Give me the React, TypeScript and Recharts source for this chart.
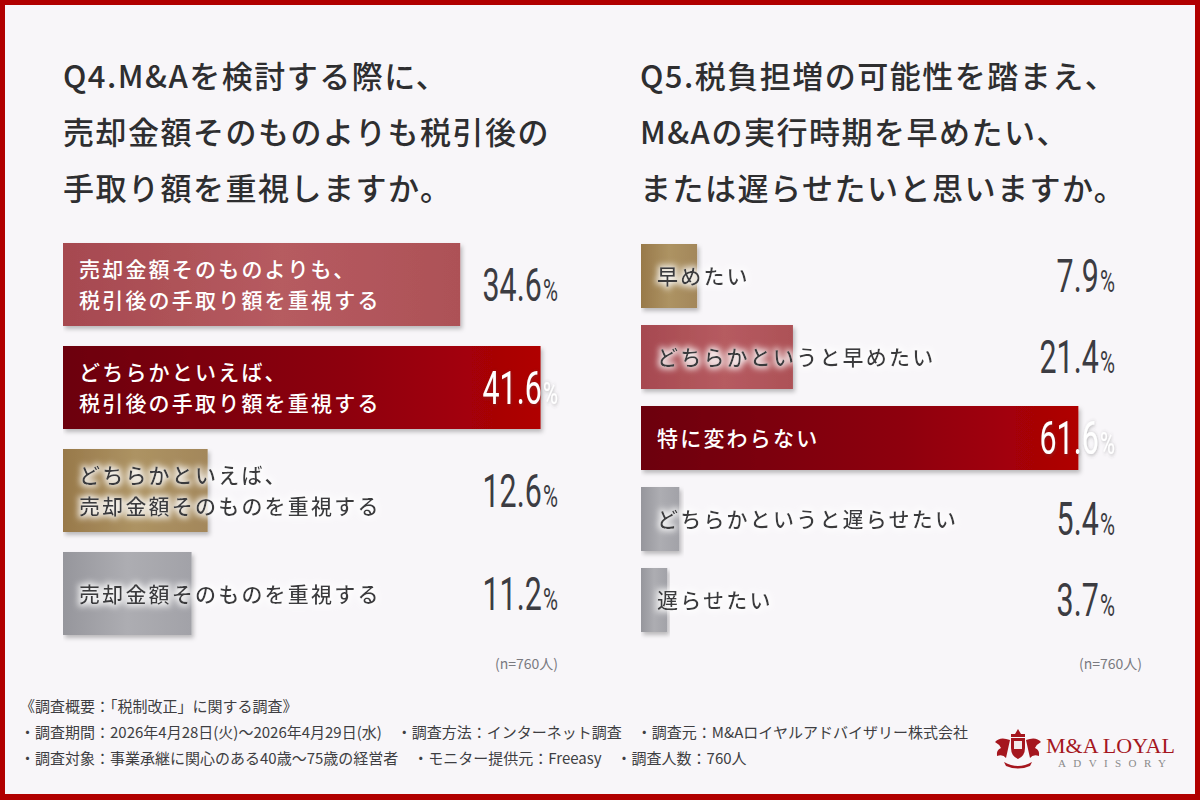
import { BarChart, Bar, XAxis, YAxis, Cell, LabelList } from "recharts";

// Q4 survey answers
const q4Categories = [
  "売却金額そのものよりも、\n税引後の手取り額を重視する",
  "どちらかといえば、\n税引後の手取り額を重視する",
  "どちらかといえば、\n売却金額そのものを重視する",
  "売却金額そのものを重視する",
];
const q4Values = [34.6, 41.6, 12.6, 11.2];

// Q5 survey answers
const q5Categories = [
  "早めたい",
  "どちらかというと早めたい",
  "特に変わらない",
  "どちらかというと遅らせたい",
  "遅らせたい",
];
const q5Values = [7.9, 21.4, 61.6, 5.4, 3.7];

const q4Title = ["Q4.M&Aを検討する際に、", "売却金額そのものよりも税引後の", "手取り額を重視しますか。"];
const q5Title = ["Q5.税負担増の可能性を踏まえ、", "M&Aの実行時期を早めたい、", "または遅らせたいと思いますか。"];
const sampleNote = "(n=760人)";

const footerLines = [
  "《調査概要：「税制改正」に関する調査》",
  "・調査期間：2026年4月28日(火)～2026年4月29日(水)　・調査方法：インターネット調査　・調査元：M&Aロイヤルアドバイザリー株式会社",
  "・調査対象：事業承継に関心のある40歳～75歳の経営者　・モニター提供元：Freeasy　・調査人数：760人",
];

// styling per bar
const q4Fills = ["url(#rose)", "url(#crimson)", "url(#gold)", "url(#gray)"];
const q4LightText = [true, true, false, false];
const q5Fills = ["url(#gold)", "url(#rose)", "url(#crimson)", "url(#gray)", "url(#gray)"];
const q5LightText = [false, false, true, false, false];

const JP = '"Noto Sans CJK JP", "Noto Sans", sans-serif';
const NUM = 'Roboto, "Liberation Sans", sans-serif';

type Row = { name: string; value: number };

const toRows = (names: string[], values: number[]): Row[] =>
  names.map((name, i) => ({ name, value: values[i] }));

function BarShape(props: any) {
  const { x, y, width, height, fill } = props;
  if (!width || width <= 0) return null;
  return <rect x={x} y={y} width={width} height={height} fill={fill} filter="url(#barShadow)" />;
}

function SurveyBars({
  data,
  width,
  height,
  domainMax,
  barSize,
  labelRight,
  fills,
  lightText,
  highlight,
}: {
  data: Row[];
  width: number;
  height: number;
  domainMax: number;
  barSize: number;
  labelRight: number;
  fills: string[];
  lightText: boolean[];
  highlight: number;
}) {
  const renderName = (p: any) => {
    const { x, y, height: h, value, index } = p;
    const lines = String(value).split("\n");
    const gap = 31;
    const cy = y + h / 2 - 1;
    const start = cy - ((lines.length - 1) * gap) / 2;
    const light = lightText[index];
    return (
      <text
        fontFamily={JP}
        fontSize={21}
        fontWeight={500}
        letterSpacing={2.2}
        fill={light ? "#ffffff" : "#3a3a3e"}
        filter={light ? undefined : "url(#textGlow)"}
      >
        {lines.map((ln, i) => (
          <tspan key={i} x={x + 16} y={start + i * gap} dominantBaseline="central">
            {ln}
          </tspan>
        ))}
      </text>
    );
  };

  const renderValue = (p: any) => {
    const { y, height: h, value, index } = p;
    const hi = index === highlight;
    const base = y + h / 2 + 16;
    return (
      <text
        transform={`translate(${labelRight},${base}) scale(0.66,1)`}
        textAnchor="end"
        fontFamily={NUM}
        fontWeight={400}
        fill={hi ? "#ffffff" : "#3c3c42"}
        filter={hi ? "url(#pctShadow)" : undefined}
      >
        <tspan fontSize={46}>{Number(value).toFixed(1)}</tspan>
        <tspan fontSize={31} dx={2}>%</tspan>
      </text>
    );
  };

  return (
    <BarChart
      width={width}
      height={height}
      data={data}
      layout="vertical"
      margin={{ top: 0, right: 0, bottom: 0, left: 0 }}
      style={{ overflow: "visible" }}
    >
      <XAxis type="number" domain={[0, domainMax]} hide />
      <YAxis type="category" dataKey="name" hide />
      <Bar dataKey="value" barSize={barSize} shape={BarShape} isAnimationActive={false}>
        {data.map((_, i) => (
          <Cell key={i} fill={fills[i]} />
        ))}
        <LabelList dataKey="name" content={renderName} />
        <LabelList dataKey="value" content={renderValue} />
      </Bar>
    </BarChart>
  );
}

function Defs() {
  return (
    <svg width={0} height={0} style={{ position: "absolute" }}>
      <defs>
        <linearGradient id="rose" x1="0" y1="0" x2="1" y2="0">
          <stop offset="0" stopColor="#a64950" />
          <stop offset="0.55" stopColor="#b65b60" />
          <stop offset="1" stopColor="#ad5157" />
        </linearGradient>
        <linearGradient id="crimson" x1="0" y1="0" x2="1" y2="0">
          <stop offset="0" stopColor="#6c0009" />
          <stop offset="0.6" stopColor="#8e000c" />
          <stop offset="1" stopColor="#b00404" />
        </linearGradient>
        <linearGradient id="gold" x1="0" y1="0" x2="1" y2="0">
          <stop offset="0" stopColor="#98794a" />
          <stop offset="0.5" stopColor="#ad9363" />
          <stop offset="1" stopColor="#a3875a" />
        </linearGradient>
        <linearGradient id="gray" x1="0" y1="0" x2="1" y2="0">
          <stop offset="0" stopColor="#96969c" />
          <stop offset="0.5" stopColor="#adadb2" />
          <stop offset="1" stopColor="#a2a2a8" />
        </linearGradient>
        <filter id="barShadow" x="-5%" y="-10%" width="115%" height="130%">
          <feDropShadow dx={2} dy={3} stdDeviation={2} floodColor="#000" floodOpacity={0.25} />
        </filter>
        <filter id="textGlow" x="-10%" y="-60%" width="120%" height="220%">
          <feMorphology operator="dilate" radius={2} in="SourceAlpha" result="d" />
          <feGaussianBlur in="d" stdDeviation={3} result="b" />
          <feFlood floodColor="#ffffff" floodOpacity={0.85} />
          <feComposite in2="b" operator="in" result="g" />
          <feMerge>
            <feMergeNode in="g" />
            <feMergeNode in="SourceGraphic" />
          </feMerge>
        </filter>
        <filter id="pctShadow" x="-30%" y="-50%" width="160%" height="200%">
          <feDropShadow dx={1} dy={1} stdDeviation={2} floodColor="#555" floodOpacity={0.4} />
        </filter>
      </defs>
    </svg>
  );
}

function Logo() {
  return (
    <svg width={200} height={56} style={{ position: "absolute", left: 992, top: 722 }}>
      <g fill="#a5161e">
        {/* crest */}
        <path d="M23 12 l3 -5 l3 5 z" />
        <rect x={19} y={12} width={14} height={3} />
        <path d="M19 16 h14 v10 q0 8 -7 11 q-7 -3 -7 -11 z" />
        <path d="M18 18 q-10 -4 -15 2 q4 2 6 6 q-5 2 -4 8 q6 -2 9 2 z" />
        <path d="M34 18 q10 -4 15 2 q-4 2 -6 6 q5 2 4 8 q-6 -2 -9 2 z" />
        <path d="M12 40 q14 8 28 0 l-2 4 q-12 5 -24 0 z" />
      </g>
      <rect x={22} y={19} width={8} height={8} fill="#f3e9ea" />
      <text x={54} y={31} fontFamily='"Liberation Serif", serif' fontSize={22} fill="#a5161e">
        M&amp;A LOYAL
      </text>
      <text x={66} y={45} fontFamily='"Liberation Serif", serif' fontSize={11} letterSpacing={7.4} fill="#8a8a8a">
        ADVISORY
      </text>
    </svg>
  );
}

const titleStyle = (left: number): React.CSSProperties => ({
  position: "absolute",
  left,
  top: 47,
  fontFamily: JP,
  fontSize: 31,
  fontWeight: 500,
  letterSpacing: 1.5,
  lineHeight: "56px",
  color: "#2e2e30",
  whiteSpace: "pre",
});

const noteStyle = (right: number): React.CSSProperties => ({
  position: "absolute",
  left: right - 140,
  width: 140,
  top: 653,
  textAlign: "right",
  fontFamily: JP,
  fontSize: 14,
  color: "#7a7a80",
});

export default function App() {
  return (
    <div
      style={{
        position: "absolute",
        left: 0,
        top: 0,
        width: 1200,
        height: 800,
        background: "#f8f6f9",
        overflow: "hidden",
      }}
    >
      <Defs />
      <div style={titleStyle(63)}>{q4Title.join("\n")}</div>
      <div style={titleStyle(640)}>{q5Title.join("\n")}</div>

      <div style={{ position: "absolute", left: 63, top: 233 }}>
        <SurveyBars
          data={toRows(q4Categories, q4Values)}
          width={574}
          height={412}
          domainMax={50}
          barSize={83}
          labelRight={495}
          fills={q4Fills}
          lightText={q4LightText}
          highlight={1}
        />
      </div>
      <div style={{ position: "absolute", left: 641, top: 235 }}>
        <SurveyBars
          data={toRows(q5Categories, q5Values)}
          width={497}
          height={405}
          domainMax={70}
          barSize={64}
          labelRight={474}
          fills={q5Fills}
          lightText={q5LightText}
          highlight={2}
        />
      </div>

      <div style={noteStyle(558)}>{sampleNote}</div>
      <div style={noteStyle(1142)}>{sampleNote}</div>

      <div
        style={{
          position: "absolute",
          left: 20,
          top: 693,
          fontFamily: JP,
          fontSize: 15,
          lineHeight: "26px",
          color: "#3e3e42",
          whiteSpace: "pre",
        }}
      >
        {footerLines.join("\n")}
      </div>

      <Logo />

      <div
        style={{
          position: "absolute",
          left: 0,
          top: 0,
          width: 1200,
          height: 800,
          boxSizing: "border-box",
          border: "5px solid #b10000",
          borderBottomWidth: 6,
          pointerEvents: "none",
        }}
      />
    </div>
  );
}
